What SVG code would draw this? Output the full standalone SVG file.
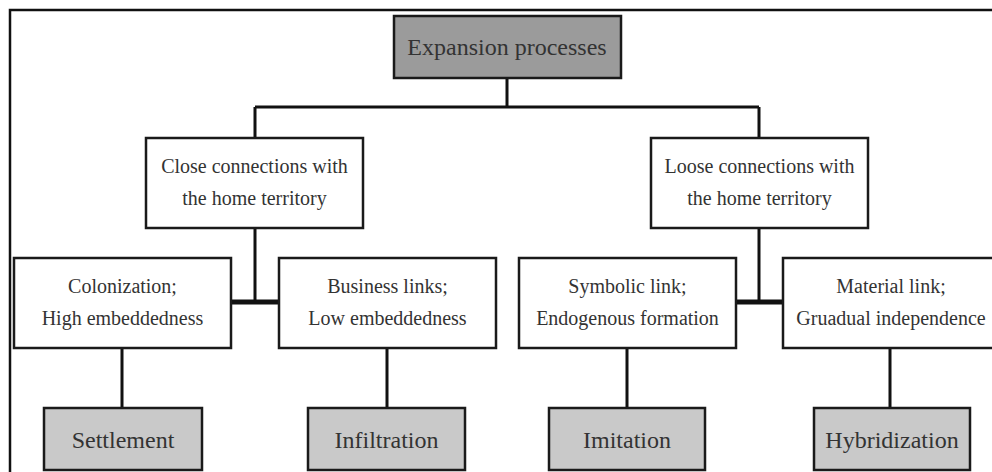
<svg xmlns="http://www.w3.org/2000/svg" width="992" height="472" viewBox="0 0 992 472">
<style>
.box{fill:#ffffff;stroke:#1a1a1a;stroke-width:2.5}
.dark{fill:#9b9b9b;stroke:#1a1a1a;stroke-width:2.5}
.light{fill:#c9c9c9;stroke:#1a1a1a;stroke-width:2.5}
text{font-family:'Liberation Serif','DejaVu Serif',serif;fill:#333333;text-anchor:middle}
.s{font-size:20px}
.b{font-size:24px}
.c{stroke:#111111;stroke-width:3;fill:none}
.j{stroke:#111111;stroke-width:5;fill:none}
</style>
<rect width="992" height="472" fill="#ffffff"/>
<rect x="10" y="10" width="1000" height="500" fill="none" stroke="#111111" stroke-width="2.5"/>
<g id="connectors">
<path class="c" d="M507 78 V107 M255 107 H759 M255 107 V138 M759 107 V138"/>
<path class="c" d="M255 228 V302 M759 228 V302"/>
<path class="j" d="M231 302 H279 M736 302 H783"/>
<path class="c" d="M122 348 V408 M387 348 V408 M627 348 V408 M890 348 V408"/>
</g>
<g id="n-expansion">
<rect class="dark" x="394" y="16" width="227" height="62"/>
<text class="b" x="507" y="55" font-family="Liberation Serif">Expansion processes</text>
</g>
<g id="n-close">
<rect class="box" x="146" y="138" width="217" height="90"/>
<text class="s" x="254.5" y="173">Close connections with</text>
<text class="s" x="254.5" y="205">the home territory</text>
</g>
<g id="n-loose">
<rect class="box" x="651" y="138" width="217" height="90"/>
<text class="s" x="759.5" y="173">Loose connections with</text>
<text class="s" x="759.5" y="205">the home territory</text>
</g>
<g id="n-colonization">
<rect class="box" x="14" y="258" width="217" height="90"/>
<text class="s" x="122.5" y="293">Colonization;</text>
<text class="s" x="122.5" y="325">High embeddedness</text>
</g>
<g id="n-business">
<rect class="box" x="279" y="258" width="217" height="90"/>
<text class="s" x="387.5" y="293">Business links;</text>
<text class="s" x="387.5" y="325">Low embeddedness</text>
</g>
<g id="n-symbolic">
<rect class="box" x="519" y="258" width="217" height="90"/>
<text class="s" x="627.5" y="293">Symbolic link;</text>
<text class="s" x="627.5" y="325">Endogenous formation</text>
</g>
<g id="n-material">
<rect class="box" x="783" y="258" width="217" height="90"/>
<text class="s" x="891" y="293">Material link;</text>
<text class="s" x="891" y="325">Gruadual independence</text>
</g>
<g id="n-settlement">
<rect class="light" x="44" y="408" width="158" height="62"/>
<text class="b" x="123" y="448">Settlement</text>
</g>
<g id="n-infiltration">
<rect class="light" x="308" y="408" width="157" height="62"/>
<text class="b" x="386.5" y="448">Infiltration</text>
</g>
<g id="n-imitation">
<rect class="light" x="549" y="408" width="156" height="62"/>
<text class="b" x="627" y="448">Imitation</text>
</g>
<g id="n-hybridization">
<rect class="light" x="814" y="408" width="156" height="62"/>
<text class="b" x="892" y="448">Hybridization</text>
</g>
</svg>
